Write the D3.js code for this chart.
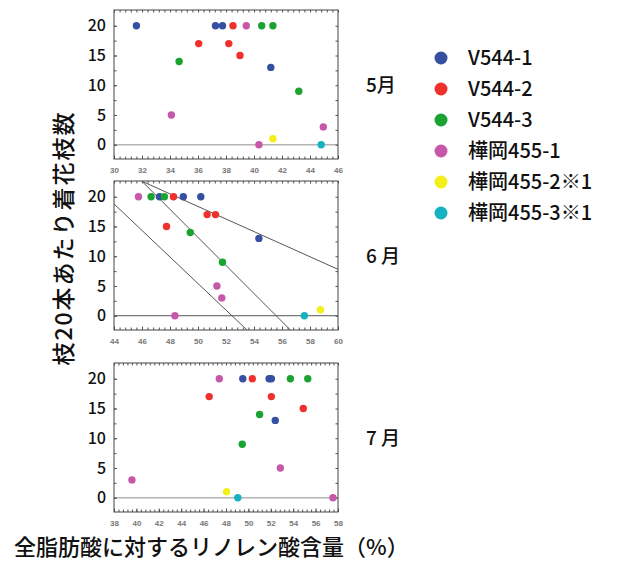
<!DOCTYPE html>
<html>
<head>
<meta charset="utf-8">
<script src="https://cdn.jsdelivr.net/npm/d3@7"></script>
<style>
  body { margin: 0; background: #fff; }
  svg { display: block; }
</style>
</head>
<body>
<svg id="chart" width="617" height="563"></svg>
<script>
// Lines (series) and their colours
const seriesNames = ["V544-1", "V544-2", "V544-3", "樺岡455-1", "樺岡455-2※1", "樺岡455-3※1"];
const seriesColors = ["#3550a2", "#f0302c", "#1ba332", "#c657a9", "#f2f018", "#17b2c2"];

// Flowering shoots per 20 shoots, per tree within each line
const flowerCounts = [
  [20, 20, 20, 13],
  [20, 17, 17, 15],
  [20, 20, 14, 9],
  [20, 5, 3, 0],
  [1],
  [0]
];

// Linolenic acid share of total fatty acids (%), same tree order as flowerCounts
const mayLinolenic = [
  [31.6, 37.25, 37.75, 41.2],
  [38.5, 36.05, 38.2, 39.0],
  [40.55, 41.35, 34.65, 43.2],
  [39.45, 34.1, 44.95, 40.35],
  [41.35],
  [44.8]
];
const juneLinolenic = [
  [47.25, 48.95, 50.2, 54.35],
  [48.25, 50.65, 51.25, 47.75],
  [46.65, 47.6, 49.45, 51.75],
  [45.75, 51.35, 51.7, 48.35],
  [58.75],
  [57.6]
];
const julyLinolenic = [
  [49.5, 51.85, 52.05, 52.4],
  [50.35, 46.5, 52.05, 54.9],
  [53.75, 55.3, 51.0, 49.45],
  [47.4, 52.85, 39.6, 57.55],
  [48.05],
  [49.05]
];

const monthLabels = ["5月", "6 月", "7 月"];
const xDomains = [[30, 46], [44, 60], [38, 58]];
const yTickValues = [0, 5, 10, 15, 20];

// Reference lines drawn in the June panel, endpoints as [linolenic %, count]
const juneTrendLines = [
  [[46.0, 22.6], [60.0, 7.8]],
  [[46.0, 22.6], [56.6, -2.4]],
  [[44.0, 18.8], [53.5, -2.4]]
];

const yLabel = "枝20本あたり着花枝数";
const xLabel = "全脂肪酸に対するリノレン酸含量（%）";

const svg = d3.select("#chart");
svg.append("rect").attr("width", 617).attr("height", 563).attr("fill", "#fff");

const plotLeft = 114, plotRight = 338, plotH = 149;
const panelTops = [10, 181, 363];
const monthData = [mayLinolenic, juneLinolenic, julyLinolenic];
const cjk = "'Noto Sans CJK JP', 'Noto Sans', sans-serif";

monthData.forEach((xsBySeries, p) => {
  const top = panelTops[p];
  const g = svg.append("g").attr("transform", `translate(0,${top})`);
  const x = d3.scaleLinear().domain(xDomains[p]).range([plotLeft, plotRight]);
  const y = d3.scaleLinear().domain([-2.4, 22.65]).range([plotH, 0]);

  const [x0, x1] = xDomains[p];
  const majorX = d3.range(x0, x1 + 0.001, 2);
  const minorX = d3.range(0, Math.round((x1 - x0) / 0.4) + 1).map(i => x0 + i * 0.4);
  const minorY = d3.range(0, 9).map(i => i * 2.5);

  // zero baseline
  g.append("line")
    .attr("x1", plotLeft).attr("x2", plotRight)
    .attr("y1", y(0)).attr("y2", y(0))
    .attr("stroke", p === 1 ? "#555" : "#b5b5b5")
    .attr("stroke-width", p === 1 ? 1 : 1.6);

  // axes with inward ticks
  const styleAxis = sel => {
    sel.select(".domain").remove();
    sel.selectAll(".tick line").attr("stroke", "#555");
  };
  g.append("g").attr("transform", `translate(0,${plotH})`)
    .call(d3.axisBottom(x).tickValues(minorX).tickSize(-2.5).tickFormat(""))
    .call(styleAxis);
  g.append("g").attr("transform", `translate(0,${plotH})`)
    .call(d3.axisBottom(x).tickValues(majorX).tickSize(-3.5).tickPadding(8).tickFormat(d3.format("d")))
    .call(styleAxis)
    .call(s => s.selectAll("text")
      .attr("font-family", "'Liberation Sans', Arial, sans-serif")
      .attr("font-size", 8).attr("font-weight", "bold").attr("fill", "#777"));
  g.append("g")
    .call(d3.axisTop(x).tickValues(minorX).tickSize(-2.5).tickFormat(""))
    .call(styleAxis);
  g.append("g").attr("transform", `translate(${plotLeft},0)`)
    .call(d3.axisLeft(y).tickValues(minorY).tickSize(-2.5).tickFormat(""))
    .call(styleAxis);
  g.append("g").attr("transform", `translate(${plotLeft},0)`)
    .call(d3.axisLeft(y).tickValues(yTickValues).tickSize(-3).tickPadding(8).tickFormat(d3.format("d")))
    .call(styleAxis)
    .call(s => s.selectAll("text")
      .attr("font-family", cjk)
      .attr("font-size", 16).attr("font-weight", 500).attr("fill", "#111"));
  g.append("g").attr("transform", `translate(${plotRight},0)`)
    .call(d3.axisRight(y).tickValues(minorY).tickSize(-2.5).tickFormat(""))
    .call(styleAxis);

  // frame
  g.append("rect")
    .attr("x", plotLeft).attr("y", 0)
    .attr("width", plotRight - plotLeft).attr("height", plotH)
    .attr("fill", "none").attr("stroke", "#444").attr("stroke-width", 1);

  // trend lines (June only)
  if (p === 1) {
    g.append("g").selectAll("line").data(juneTrendLines).join("line")
      .attr("x1", d => x(d[0][0])).attr("y1", d => y(d[0][1]))
      .attr("x2", d => x(d[1][0])).attr("y2", d => y(d[1][1]))
      .attr("stroke", "#555").attr("stroke-width", 1);
  }

  // points
  const pts = [];
  xsBySeries.forEach((xs, s) => xs.forEach((v, i) => pts.push({ s, x: v, y: flowerCounts[s][i] })));
  g.append("g").selectAll("circle").data(pts).join("circle")
    .attr("cx", d => x(d.x)).attr("cy", d => y(d.y)).attr("r", 3.7)
    .attr("fill", d => seriesColors[d.s]);

  // month label
  svg.append("text")
    .attr("x", 366).attr("y", top + 82)
    .attr("font-family", cjk).attr("font-size", 19).attr("font-weight", 500).attr("fill", "#111")
    .attr("xml:space", "preserve")
    .text(monthLabels[p]);
});

// legend
const legend = svg.append("g");
seriesNames.forEach((name, i) => {
  const cy = 58 + i * 31;
  legend.append("circle").attr("cx", 441).attr("cy", cy).attr("r", 6.5).attr("fill", seriesColors[i]);
  legend.append("text").attr("x", 468).attr("y", cy + 7)
    .attr("font-family", cjk).attr("font-size", 20).attr("font-weight", 500).attr("fill", "#111")
    .text(name);
});

// axis titles
svg.append("text")
  .attr("transform", "translate(72,238) rotate(-90)")
  .attr("text-anchor", "middle")
  .attr("font-family", cjk).attr("font-size", 23).attr("font-weight", 500).attr("fill", "#111")
  .attr("letter-spacing", 2)
  .text(yLabel);
svg.append("text")
  .attr("x", 14).attr("y", 555)
  .attr("font-family", cjk).attr("font-size", 22).attr("font-weight", 500).attr("fill", "#111")
  .text(xLabel);
</script>
</body>
</html>
